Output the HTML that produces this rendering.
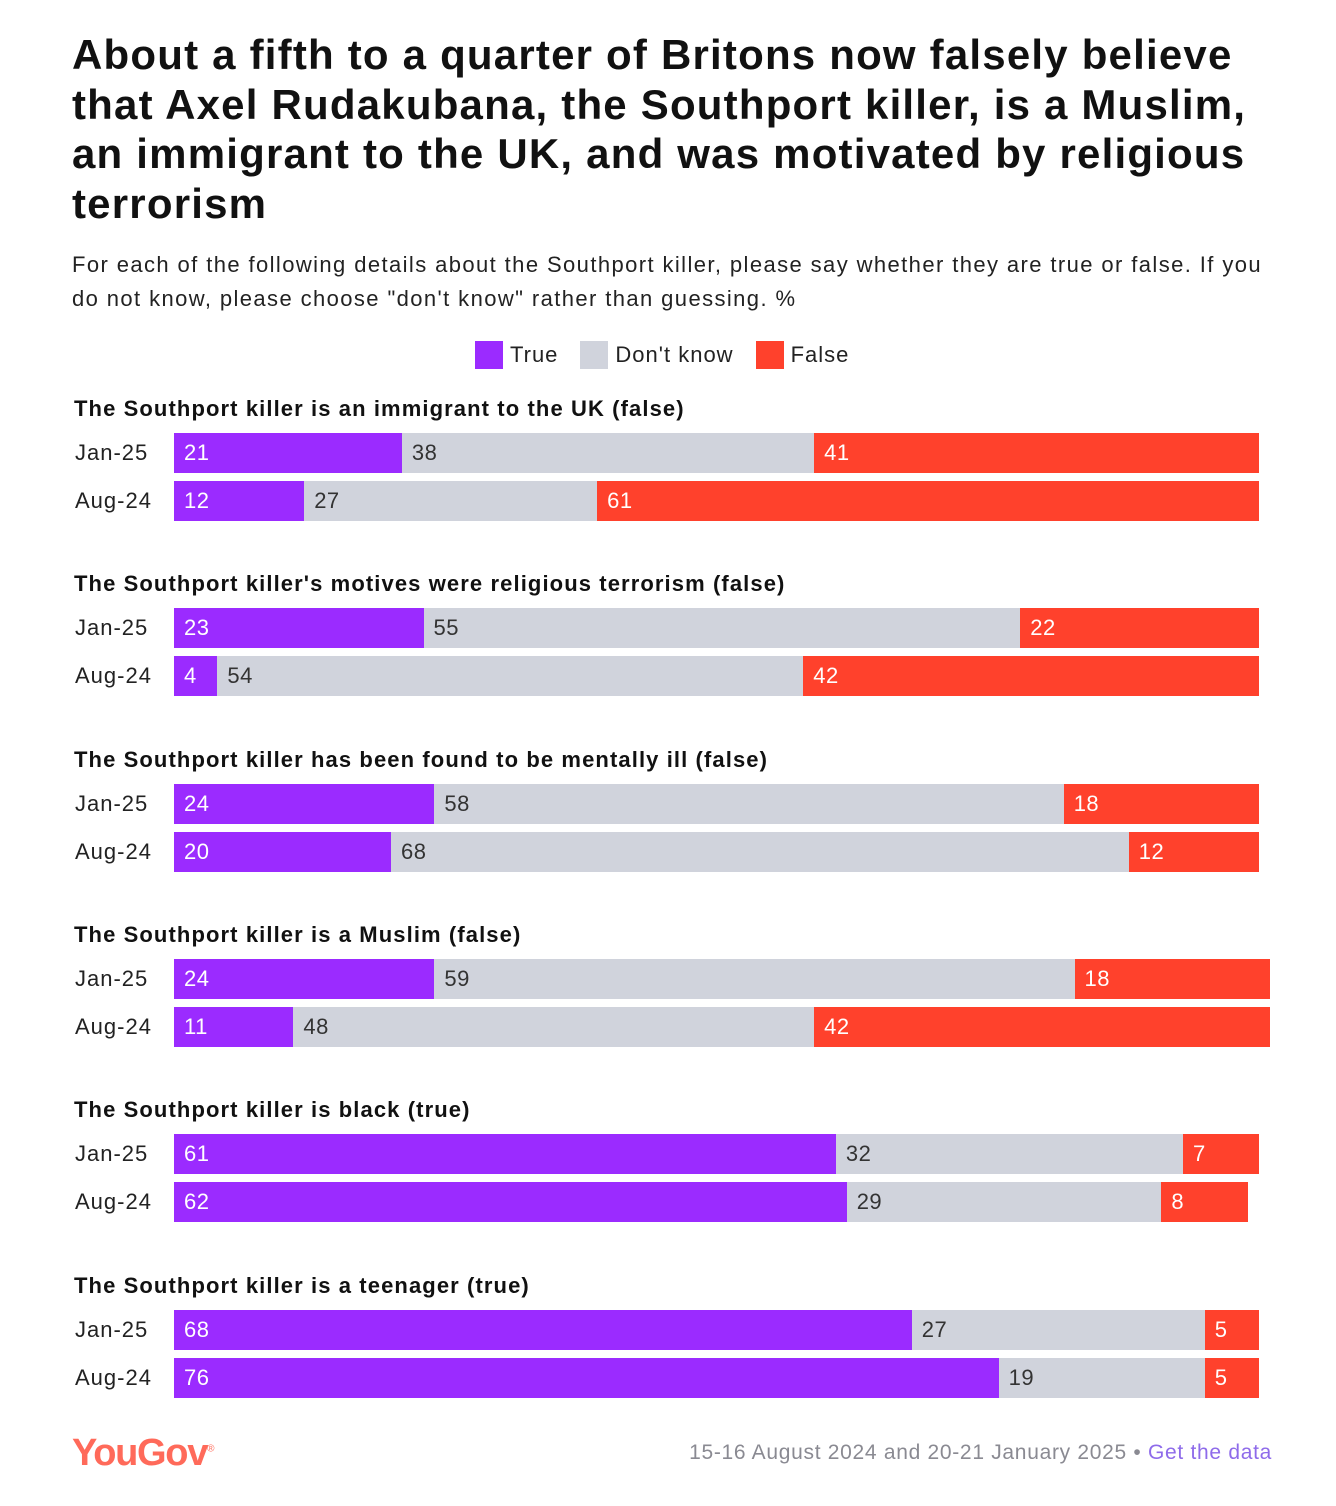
<!DOCTYPE html>
<html><head><meta charset="utf-8">
<style>
body{margin:0;background:#fff;font-family:"Liberation Sans",sans-serif;}
#page{position:relative;width:1336px;height:1506px;overflow:hidden;}
.t{position:absolute;white-space:nowrap;}
</style></head>
<body>
<div id="page">
<div class="t" style="left:72px;top:30px;font-size:42px;font-weight:bold;line-height:49.5px;color:#111;letter-spacing:1.2px">About a fifth to a quarter of Britons now falsely believe<br>that Axel Rudakubana, the Southport killer, is a Muslim,<br>an immigrant to the UK, and was motivated by religious<br>terrorism</div>
<div class="t" style="left:72px;top:248px;font-size:22px;line-height:34px;color:#222;letter-spacing:1.4px">For each of the following details about the Southport killer, please say whether they are true or false. If you<br>do not know, please choose "don't know" rather than guessing. %</div>
<div style="position:absolute;left:475px;top:341px;font-size:22px;color:#222;display:flex;align-items:center;letter-spacing:1px">
<span style="display:flex;align-items:center"><span style="width:28px;height:28px;background:#9b2bff;display:inline-block;margin-right:7px"></span>True</span>
<span style="display:flex;align-items:center;margin-left:22px"><span style="width:28px;height:28px;background:#d0d3dc;display:inline-block;margin-right:7px"></span>Don't know</span>
<span style="display:flex;align-items:center;margin-left:22px"><span style="width:28px;height:28px;background:#ff412c;display:inline-block;margin-right:7px"></span>False</span>
</div>
<div id="chart"></div>
<div class="t" style="left:72px;top:1432px;font-size:38px;font-weight:bold;color:#ff6a5a;letter-spacing:-1.3px">YouGov<sup style="font-size:10px;font-weight:normal">®</sup></div>
<div class="t" style="right:64px;top:1441px;font-size:21px;color:#8a8a92;letter-spacing:0.7px">15-16 August 2024 and 20-21 January 2025 • <span style="color:#8e6bea">Get the data</span></div>
</div>
<script>
const questions=["The Southport killer is an immigrant to the UK (false)","The Southport killer's motives were religious terrorism (false)","The Southport killer has been found to be mentally ill (false)","The Southport killer is a Muslim (false)","The Southport killer is black (true)","The Southport killer is a teenager (true)"];
const periods=["Jan-25","Aug-24"];
const trueVals=[[21,12],[23,4],[24,20],[24,11],[61,62],[68,76]];
const dkVals=[[38,27],[55,54],[58,68],[59,48],[32,29],[27,19]];
const falseVals=[[41,61],[22,42],[18,12],[18,42],[7,8],[5,5]];
const colors=["#9b2bff","#d0d3dc","#ff412c"];
const textCols=["#fff","#333","#fff"];
const x0=174, pxPer=10.85;
const xs=v=>v*pxPer;
const chart=document.getElementById('chart');
questions.forEach((q,qi)=>{
  const gy=396+qi*175.3;
  const h=document.createElement('div');
  h.className='t';
  
  
  h.style.cssText=`left:74px;top:${gy}px;font-size:22px;font-weight:bold;color:#111;letter-spacing:1.1px`;
  h.textContent=q;chart.appendChild(h);
  periods.forEach((p,pi)=>{
    const by=gy+37+pi*48;
    const l=document.createElement('div');
    l.className='t';
    
    
    l.style.cssText=`left:75px;top:${by+7}px;font-size:22px;color:#222;letter-spacing:1px`;
    l.textContent=p;chart.appendChild(l);
    const vals=[trueVals[qi][pi],dkVals[qi][pi],falseVals[qi][pi]];
    let cx=x0;
    vals.forEach((v,si)=>{
      const b=document.createElement('div');
      b.className='t';
      
      
      b.style.cssText=`left:${cx}px;top:${by}px;width:${xs(v)}px;height:40px;background:${colors[si]};color:${textCols[si]};font-size:22px;line-height:39px;box-sizing:border-box;padding-left:10px;letter-spacing:0.5px`;
      b.textContent=v;chart.appendChild(b);
      cx+=xs(v);
    });
  });
});
</script>
</body></html>
